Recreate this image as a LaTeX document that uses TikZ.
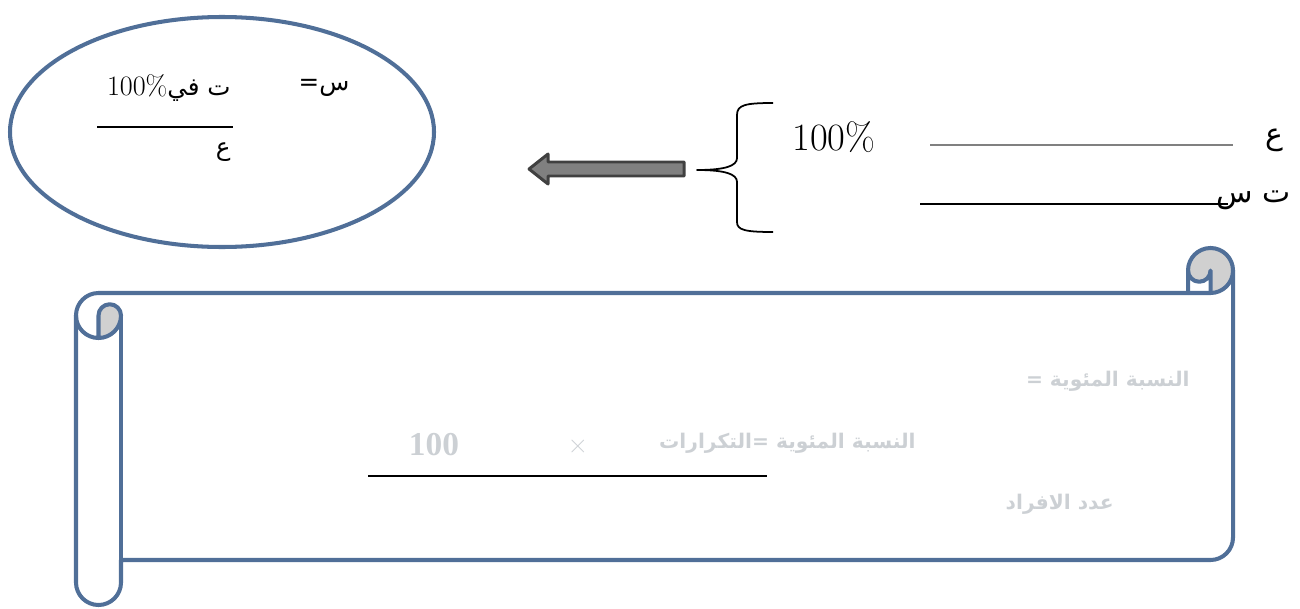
\documentclass[tikz,border=0pt]{standalone}
\usepackage{fontspec}
\newfontfamily\arabicfont[Script=Arabic]{DejaVu Sans}
\newfontfamily\numfont{Liberation Serif}
\TeXXeTstate=1
\definecolor{scrollblue}{RGB}{80,111,152}
\definecolor{curlgray}{RGB}{208,208,208}
\definecolor{fadegray}{RGB}{204,208,212}
\definecolor{arrowfill}{RGB}{128,128,128}
\definecolor{arrowedge}{RGB}{64,64,64}
\usetikzlibrary{positioning}

\begin{document}
\begin{tikzpicture}[x=0.02cm,y=-0.02cm,line join=round]
        \tikzstyle{outline}=[draw=scrollblue,line width=2.3pt]
        \tikzstyle{ar}=[inner sep=0pt,font=\arabicfont\fontsize{14}{16}\selectfont]
        \tikzstyle{fade}=[inner sep=0pt,text=fadegray,font=\arabicfont\bfseries\fontsize{11.5}{13}\selectfont]
        \useasboundingbox (0,0) rectangle (1300,608);

        % ellipse with the rule
        \draw[outline] (222,132) ellipse [x radius=212, y radius=115];
        \node[ar] (s-eq) at (324,88) {\beginR س=\endR};
        \node[ar,anchor=east] (s-num) at (231,88) {{\normalfont\fontsize{16}{18}\selectfont 100\%}\beginR ت في\endR};
        \draw[line width=1pt] (97,127) -- (233,127);
        \node[ar,anchor=east] (s-den) at (231,152) {\beginR ع\endR};

        % block arrow
        \draw[fill=arrowfill,draw=arrowedge,line width=1.7pt]
          (529,169) -- (548,154) -- (548,162) -- (684,162) -- (684,176)
          -- (548,176) -- (548,184) -- cycle;

        % brace
        \draw[line width=1pt] (773,103) .. controls (745,103) and (737,105) .. (737,115)
          -- (737,158) .. controls (737,166) and (725,170) .. (697,170)
          .. controls (725,170) and (737,174) .. (737,182)
          -- (737,222) .. controls (737,230) and (745,232) .. (773,232);

        \node[inner sep=0pt,anchor=west,font=\fontsize{22}{26}\selectfont] (r-pct) at (792,137) {100\%};
        \draw[line width=1pt,gray] (930,145) -- (1233,145);
        \node[ar,font=\arabicfont\fontsize{17}{20}\selectfont] (r-a) at (1274,140) {\beginR ع\endR};
        \draw[line width=1pt] (920,204) -- (1228,204);
        \node[ar,anchor=east,font=\arabicfont\fontsize{17}{20}\selectfont] (r-x) at (1291,200) {\beginR ت س\endR};

        % scroll
        \fill[curlgray] (98.5,338) arc[start angle=90, delta angle=-90, radius=22.5]
          arc[start angle=0, delta angle=-180, radius=11.25] -- cycle;
        \fill[curlgray] (1210.5,293) arc[start angle=90, delta angle=-270, radius=22.5]
          arc[start angle=180, delta angle=-180, radius=11.25] -- cycle;
        \draw[outline] (76,315.5) arc[start angle=180, delta angle=90, radius=22.5]
          -- (1188,293) -- (1188,270.5) arc[start angle=180, delta angle=180, radius=22.5]
          -- (1233,537.5) arc[start angle=0, delta angle=90, radius=22.5]
          -- (121,560) -- (121,582.5) arc[start angle=0, delta angle=180, radius=22.5] -- cycle;
        \draw[outline] (1188,293) -- (1210.5,293) arc[start angle=90, delta angle=-90, radius=22.5];
        \draw[outline] (1210.5,293) -- (1210.5,270.5) arc[start angle=0, delta angle=180, radius=11.25];
        \draw[outline] (98.5,338) -- (98.5,315.5) arc[start angle=180, delta angle=180, radius=11.25]
          arc[start angle=0, delta angle=180, radius=22.5];
        \draw[outline] (121,315.5) -- (121,560);

        % faded text inside the scroll
        \node[fade,anchor=east] (p-head) at (1190,381) {\beginR النسبة المئوية =\endR};
        \node[fade,anchor=east] (p-rule) at (916,443) {\beginR النسبة المئوية =التكرارات\endR};
        \node[fade,font=\sffamily\fontsize{16}{18}\selectfont] (p-times) at (578,447) {×};
        \node[fade,font=\numfont\bfseries\fontsize{19}{22}\selectfont] (p-hundred) at (434,445) {100};
        \draw[line width=1.2pt] (368,476) -- (767,476);
        \node[fade,anchor=east] (p-count) at (1114,504) {\beginR عدد الافراد\endR};
      \end{tikzpicture}
\end{document}
